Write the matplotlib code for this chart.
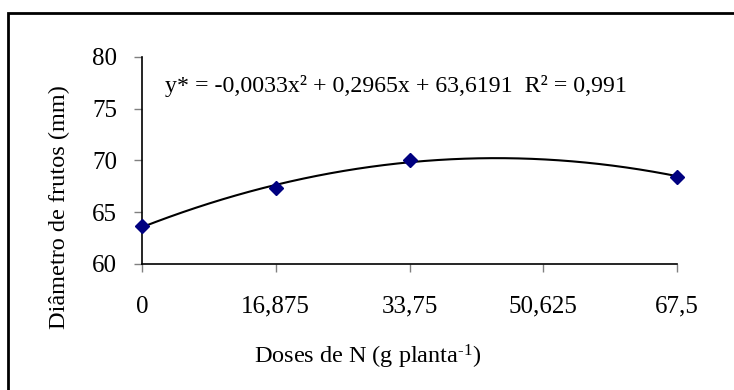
import matplotlib.pyplot as plt
import matplotlib.patches as mpatches
import numpy as np

# dados
doses = [0, 16.875, 33.75, 67.5]
diametro = [63.67, 67.35, 70.05, 68.45]
xticks = [0, 16.875, 33.75, 50.625, 67.5]
xtick_labels = ['0', '16,875', '33,75', '50,625', '67,5']
yticks = [60, 65, 70, 75, 80]
equacao = 'y* = -0,0033x² + 0,2965x + 63,6191  R² = 0,991'

plt.rcParams['font.family'] = ['Liberation Serif', 'DejaVu Serif']
plt.rcParams['mathtext.fontset'] = 'custom'
plt.rcParams['mathtext.rm'] = 'Liberation Serif'
plt.rcParams['mathtext.it'] = 'Liberation Serif:italic'

W, H = 734, 390
fig = plt.figure(figsize=(W / 100, H / 100), dpi=100)

# moldura externa (só esquerda e topo visíveis)
moldura = mpatches.Rectangle((8 / W, -0.1), 1.2, 1 - 13 / H + 0.1,
                             transform=fig.transFigure, fill=False,
                             edgecolor='black', linewidth=2)
fig.patches.append(moldura)

ax = fig.add_axes([142 / W, 1 - 264 / H, (677 - 142) / W, (264 - 57) / H])

# linha de tendência polinomial (ordem 2)
coef = np.polyfit(doses, diametro, 2)
xs = np.linspace(0, 67.5, 200)
ax.plot(xs, np.polyval(coef, xs), color='black', linewidth=1.5, zorder=2)
ax.plot(doses, diametro, linestyle='none', marker='D', markersize=7.5,
        color='#000080', zorder=3, clip_on=False)

ax.set_xlim(0, 67.5)
ax.set_ylim(60, 80)
ax.set_xticks(xticks)
ax.set_xticklabels(xtick_labels)
ax.set_yticks(yticks)

for s in ['top', 'right']:
    ax.spines[s].set_visible(False)
for s in ['left', 'bottom']:
    ax.spines[s].set_linewidth(1.2)
ax.tick_params(axis='both', direction='out', length=6, width=1,
               color='#808080', labelsize=18)
ax.tick_params(axis='x', pad=17)
ax.tick_params(axis='y', pad=12)

fig.text(165 / W, 1 - 86 / H, equacao, fontsize=17.2, va='center', ha='left')
fig.text(368 / W, 1 - 357 / H, r'Doses de N (g planta$^{\text{-1}}$)',
         fontsize=17.5, ha='center', va='center')
fig.text(59 / W, 1 - 207 / H, 'Diâmetro de frutos (mm)', fontsize=17.5,
         rotation=90, ha='center', va='center')

fig.savefig('out.png', dpi=100, facecolor='white')
